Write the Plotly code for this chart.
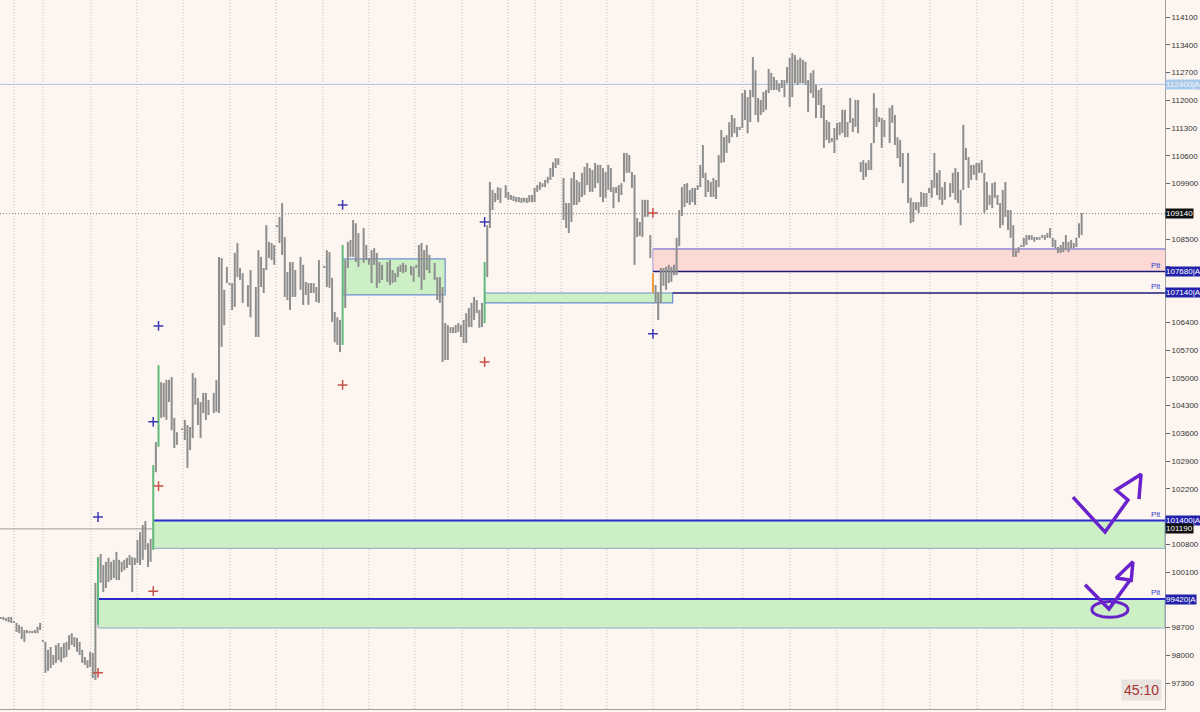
import plotly.graph_objects as go

# ---------------- data ----------------
highs = [
    98970, 98970, 98940, 98970, 98970, 98870, 98820, 98770, 98720, 98640,
    98640, 98620, 98620, 98640, 98720, 98820, 98390, 98340, 98140, 98210,
    98010, 98260, 98310, 98210, 98310, 98340, 98510, 98560, 98460, 98440,
    98340, 98140, 97960, 97880, 98090, 98060, 99830, 100480, 100560, 100280,
    100360, 100460, 100360, 100410, 100610, 100410, 100360, 100410, 100460, 100530,
    100480, 100460, 100910, 101110, 101290, 101390, 100830, 100940, 102800, 103380,
    105320, 104890, 104870, 104950, 104950, 105020, 103990, 103630, 103730, 103940,
    103810, 103760, 105120, 105000, 104490, 104390, 104620, 104620, 104440, 104620,
    104950, 108050, 108020, 107220, 107800, 107390, 107390, 108150, 108400, 107770,
    107640, 107340, 107720, 107290, 108220, 108050, 107770, 108850, 108430, 108400,
    108350, 108850, 109060, 109410, 108550, 107670, 107920, 107920, 107720, 108050,
    107850, 107420, 107390, 107390, 107390, 107290, 107970, 107820, 108220, 108170,
    107520, 106660, 106530, 106460, 108350, 107970, 108430, 108480, 108980, 108900,
    108650, 108780, 108350, 108020, 108220, 108270, 108150, 107920, 107850, 107920,
    107970, 107720, 107640, 107800, 107850, 107900, 107850, 107820, 107800, 107850,
    108350, 108400, 108220, 108350, 108100, 107900, 107540, 107540, 107290, 106380,
    106330, 106280, 106280, 106330, 106380, 106330, 106460, 106630, 106760, 106890,
    107040, 106960, 106710, 106890, 107920, 108850, 109940, 109740, 109660, 109810,
    109790, 109860, 109690, 109610, 109590, 109560, 109560, 109540, 109540, 109540,
    109610, 109610, 109790, 109860, 109940, 109910, 109990, 110070, 110290, 110440,
    110540, 110540, 110040, 109410, 109410, 110040, 110190, 109990, 109940, 110170,
    110320, 110420, 110290, 110240, 110420, 110370, 110370, 110290, 110190, 110370,
    110290, 109810, 109810, 109860, 109910, 110670, 110670, 110620, 110190, 110120,
    109030, 108930, 109490, 109490, 109490, 108600, 107640, 107340, 107160, 107770,
    107770, 107800, 107850, 107800, 107850, 108530, 109230, 109810, 109890, 109910,
    109740, 109790, 109790, 109860, 110370, 110870, 110170, 109990, 109940, 110040,
    109990, 110620, 111250, 111070, 111120, 111450, 111630, 111550, 111330, 111330,
    112180, 112260, 112080, 112260, 113090, 112760, 112060, 112010, 112210, 112260,
    112790, 112690, 112590, 112510, 112430, 112510, 112510, 112840, 113070, 113190,
    113140, 113020, 113070, 113020, 112970, 112510, 112690, 112760, 112390, 112260,
    112310, 111880, 111500, 111450, 111050, 111300, 111430, 111450, 111760, 111760,
    111450, 112060, 111550, 112010, 112010, 110440, 110490, 110420, 110490, 110920,
    112180, 111810, 111580, 111550, 111500, 111810, 111880, 111630, 111070, 111000,
    110670, 110670, 109540, 109430, 109430, 109430, 109690, 109660, 109660, 109790,
    109990, 110670, 110170, 110240, 109810, 109940, 109910, 110170, 110290, 110190,
    109740, 111380, 110800, 110570, 110370, 110370, 110420, 110420, 110490, 110170,
    109940, 109610, 109910, 109940, 109610, 109410, 109740, 109940, 109230, 109230,
    108850, 108220, 108300, 108350, 108530, 108600, 108600, 108600, 108550, 108550,
    108550, 108600, 108600, 108650, 108780, 108530, 108480, 108300, 108350, 108430,
    108600, 108430, 108480, 108400, 108530, 108900, 109160,
]
lows = [
    98920, 98890, 98870, 98840, 98820, 98820, 98590, 98560, 98410, 98340,
    98560, 98560, 98560, 98560, 98560, 98640, 98340, 97560, 97610, 97680,
    97760, 97810, 97880, 97830, 97930, 97960, 98140, 98260, 98210, 98090,
    98010, 97810, 97760, 97680, 97710, 97430, 97380, 98770, 99830, 99600,
    99700, 99850, 99900, 99950, 99900, 99900, 100100, 100150, 100200, 100280,
    99600, 100280, 100330, 100280, 100410, 100660, 100230, 100360, 100660, 102620,
    103260, 103990, 104010, 103940, 104390, 103680, 103230, 103310, 103680, 103430,
    102730, 103180, 103480, 104320, 103810, 103480, 104110, 103940, 104060, 104110,
    104140, 104110, 105780, 106330, 107390, 107340, 106710, 106790, 107540, 107470,
    106890, 106790, 106530, 106030, 106030, 107290, 107140, 107720, 108020, 107970,
    107850, 108800, 108400, 108100, 107040, 106960, 106710, 107040, 107040, 107220,
    106840, 107090, 106840, 107140, 107140, 106910, 106890, 107770, 107290, 107270,
    106410, 105900, 105830, 105650, 105830, 106760, 107770, 108050, 108050, 107920,
    107800, 107900, 107970, 107850, 107390, 107850, 107270, 107390, 107470, 107420,
    107340, 107390, 107420, 107540, 107670, 107640, 107670, 107590, 107420, 107770,
    107540, 107220, 107470, 107720, 107640, 107470, 106960, 106890, 105400, 105450,
    105450, 106130, 106130, 106130, 106160, 106030, 105880, 105880, 106280, 106280,
    106460, 106630, 106260, 106280, 106380, 107540, 108780, 109230, 109430, 109490,
    109410, 109540, 109490, 109490, 109460, 109430, 109430, 109410, 109430, 109410,
    109430, 109430, 109430, 109690, 109740, 109810, 109810, 109910, 109990, 110070,
    110290, 110370, 108980, 108780, 108650, 108930, 109360, 109360, 109430, 109560,
    109610, 109860, 109690, 109690, 109790, 109910, 109560, 109430, 109540, 109740,
    109690, 109280, 109660, 109430, 109610, 109940, 110170, 110170, 109790, 107850,
    108550, 108580, 108550, 109060, 109060, 108020, 107140, 106890, 106460, 106890,
    107320, 107220, 107390, 107420, 107590, 107590, 108320, 109080, 109310, 109410,
    109360, 109430, 109360, 109740, 109810, 110040, 109560, 109690, 109560, 109560,
    109510, 109810, 110420, 110440, 110670, 110920, 111070, 111170, 111070, 111250,
    111300, 111500, 111170, 111450, 112080, 111630, 111450, 111630, 111700, 111760,
    112180, 112260, 112260, 112260, 112210, 112310, 112080, 112430, 111830, 112080,
    112430, 112390, 112430, 112430, 112390, 111700, 112180, 112060, 111550, 111880,
    111550, 110800, 111000, 110920, 110950, 110670, 111000, 111120, 111170, 111070,
    111070, 111430, 111200, 111330, 111170, 110190, 109990, 110070, 110240, 110240,
    110920, 111330, 111450, 110800, 111070, 110920, 111430, 110870, 110540, 110320,
    109910, 109410, 108900, 108930, 109230, 109160, 109310, 109310, 109310, 109660,
    109540, 109790, 109610, 109490, 109360, 109490, 109560, 109660, 109490, 109410,
    108850, 109740, 110490, 109790, 109990, 110120, 109990, 110170, 110170, 109160,
    109230, 109360, 109280, 109540, 109360, 108780, 108850, 109060, 108730, 108530,
    108050, 108050, 108150, 108300, 108300, 108350, 108480, 108480, 108430, 108480,
    108480, 108530, 108480, 108530, 108530, 108300, 108270, 108150, 108150, 108170,
    108220, 108170, 108270, 108270, 108300, 108530, 108600,
]
# bar slots left empty in the time line (bars not readable in the picture)
empty_slot_after = [67, 78, 90, 92, 108, 116, 130, 138, 146, 154, 180, 201, 324, 330, 345]

green_bars = [37, 58, 60, 124, 174]     # signal bars drawn in green
orange_bars = [236]                      # signal bar drawn in orange

price_ticks = list(range(96600, 114101, 700))
# session separators on the time line (bar slots)
session_breaks = [5.1, 16.1, 34.3, 51.8, 69.3, 87.2, 104.7, 122.5, 140.0, 157.5,
                  175.4, 192.9, 203.2, 213.1, 230.5, 248.0, 264.8, 282.2, 300.1,
                  318.0, 335.5, 353.3, 371.2, 388.7, 399.8, 409.2]

# zones: (start bar, top, bottom, kind[, end bar])
zones = [
    (58, 101400, 100700, "green_open"),
    (37, 99420, 98690, "green_open"),
    (124, 108000, 107090, "green_box", 159),
    (174, 107140, 106890, "green_box", 243.5),
    (236, 108250, 107680, "pink_open"),
]
pit_lines = [(236, 107680), (243.5, 107140)]
full_lines = {"light": 112400, "dotted": 109140, "gray": 101190}

# entry markers (signal bar, price)
blue_marks_bar = [37, 58, 60, 124, 174, 236]
blue_marks_y = [101490, 103890, 106310, 109360, 108930, 106110]
red_marks_bar = [37, 58, 60, 124, 174, 236]
red_marks_y = [97560, 99620, 102270, 104820, 105400, 109160]

# right-hand price flags
flags = [
    (112400, "112400|A", "#a9c9ea", "#f4f8ff"),
    (109140, "109140", "#101010", "#ffffff"),
    (107680, "107680|A", "#2222aa", "#ffffff"),
    (107140, "107140|A", "#2222aa", "#ffffff"),
    (101400, "101400|A", "#2222aa", "#ffffff"),
    (101190, "101190", "#101010", "#ffffff"),
    (99420, "99420|A", "#2222aa", "#ffffff"),
]
plt_levels = [107680, 107140, 101400, 99420]

# hand drawn arrows (time slot, price)
arrow1_x = [407.7, 419.9, 428.6, 424.1, 433.6, 432.8]
arrow1_y = [101990, 101110, 101920, 102170, 102570, 101940]
arrow2_x = [412.3, 421.4, 429.4, 424.1, 430.5, 429.8]
arrow2_y = [99780, 99170, 99900, 99950, 100360, 99850]
ellipse_box = (414.9, 428.6, 98960, 99360)

# ---------------- figure ----------------
BG = "#fdf6f0"
X_MIN, X_MAX = -0.27, 442.7
Y_MIN, Y_MAX = 96648, 114529


def slot(i):
    """time slot of (possibly fractional) bar index i"""
    return i + sum(1 for g in empty_slot_after if g < int(i))


def segs(idx_list):
    xs, ys = [], []
    for i in idx_list:
        t = slot(i)
        xs += [t, t, None]
        ys += [lows[i], highs[i], None]
    return xs, ys


special = set(green_bars) | set(orange_bars)
fig = go.Figure()
gx, gy = segs([i for i in range(len(highs)) if i not in special])
fig.add_trace(go.Scatter(x=gx, y=gy, mode="lines",
                         line=dict(color="#8e8e8e", width=2), hoverinfo="skip"))
sx, sy = segs(green_bars)
fig.add_trace(go.Scatter(x=sx, y=sy, mode="lines",
                         line=dict(color="#5fb97a", width=2), hoverinfo="skip"))
ox, oy = segs(orange_bars)
fig.add_trace(go.Scatter(x=ox, y=oy, mode="lines",
                         line=dict(color="#e89a3c", width=2), hoverinfo="skip"))

fig.add_trace(go.Scatter(x=[slot(b) for b in blue_marks_bar], y=blue_marks_y,
                         mode="markers",
                         marker=dict(symbol="cross-thin", size=7,
                                     line=dict(color="#3a3ab4", width=1.5)),
                         hoverinfo="skip"))
fig.add_trace(go.Scatter(x=[slot(b) for b in red_marks_bar], y=red_marks_y,
                         mode="markers",
                         marker=dict(symbol="cross-thin", size=7,
                                     line=dict(color="#c8504c", width=1.5)),
                         hoverinfo="skip"))

for ax_, ay_ in ((arrow1_x, arrow1_y), (arrow2_x, arrow2_y)):
    fig.add_trace(go.Scatter(x=ax_, y=ay_, mode="lines",
                             line=dict(color="#6a22cc", width=3.5),
                             hoverinfo="skip"))

shapes = []
for b in session_breaks:
    shapes.append(dict(type="line", xref="x", yref="paper", x0=b, x1=b, y0=0, y1=1,
                       line=dict(color="#c4bdb8", width=1, dash="1px,2px"),
                       layer="below"))

for z in zones:
    start, top, bot, kind = slot(z[0]), z[1], z[2], z[3]
    if kind == "green_open":
        shapes.append(dict(type="rect", xref="x", yref="y", x0=start, x1=X_MAX,
                           y0=bot, y1=top, fillcolor="#cdefc6",
                           line=dict(color="#8fa8c8", width=1), layer="between"))
        shapes.append(dict(type="line", xref="x", yref="y", x0=start, x1=X_MAX,
                           y0=top, y1=top, line=dict(color="#2a2ad0", width=2),
                           layer="between"))
    elif kind == "green_box":
        shapes.append(dict(type="rect", xref="x", yref="y", x0=start, x1=slot(z[4]),
                           y0=bot, y1=top, fillcolor="#cdefc6",
                           line=dict(color="#6f8fd0", width=1.2), layer="between"))
    else:
        shapes.append(dict(type="rect", xref="x", yref="y", x0=start, x1=X_MAX,
                           y0=bot, y1=top, fillcolor="#fcd9d4",
                           line=dict(width=0), layer="between"))
        shapes.append(dict(type="line", xref="x", yref="y", x0=start, x1=X_MAX,
                           y0=top, y1=top, line=dict(color="#aa9fd8", width=2),
                           layer="between"))
        shapes.append(dict(type="line", xref="x", yref="y", x0=start, x1=start,
                           y0=bot, y1=top, line=dict(color="#aa9fd8", width=1),
                           layer="between"))

for start, lvl in pit_lines:
    shapes.append(dict(type="line", xref="x", yref="y", x0=slot(start), x1=X_MAX,
                       y0=lvl, y1=lvl, line=dict(color="#1c1c78", width=1.5),
                       layer="between"))

shapes.append(dict(type="line", xref="paper", yref="y", x0=0, x1=1,
                   y0=full_lines["light"], y1=full_lines["light"],
                   line=dict(color="#a8c6e6", width=1), layer="between"))
shapes.append(dict(type="line", xref="paper", yref="y", x0=0, x1=1,
                   y0=full_lines["dotted"], y1=full_lines["dotted"],
                   line=dict(color="#7a7a7a", width=1, dash="1px,2px"), layer="between"))
shapes.append(dict(type="line", xref="paper", yref="y", x0=0, x1=1,
                   y0=full_lines["gray"], y1=full_lines["gray"],
                   line=dict(color="#9a9a9a", width=1), layer="between"))

ex0, ex1, ey0, ey1 = ellipse_box
shapes.append(dict(type="circle", xref="x", yref="y", x0=ex0, x1=ex1, y0=ey0, y1=ey1,
                   line=dict(color="#6a22cc", width=3), layer="above"))

annotations = []
for val, txt, bgc, fgc in flags:
    annotations.append(dict(xref="paper", yref="y", x=1, y=val, xanchor="left",
                            yanchor="middle", text=txt, showarrow=False,
                            bgcolor=bgc, borderpad=0,
                            font=dict(size=8, color=fgc, family="Liberation Sans")))
for lvl in plt_levels:
    annotations.append(dict(xref="paper", yref="y", x=1, y=lvl, xanchor="right",
                            yanchor="bottom", text="Plt", showarrow=False, xshift=-2,
                            font=dict(size=8, color="#3a3ad0", family="Liberation Sans")))
annotations.append(dict(xref="paper", yref="paper", x=0.9794, y=0.027,
                        xanchor="center", yanchor="middle", text="45:10",
                        showarrow=False, bgcolor="#e8e3df", borderpad=2,
                        font=dict(size=14, color="#a83232", family="Liberation Sans")))

# tick labels hidden where a price flag covers them
flag_vals = [f[0] for f in flags]
tick_text = ["" if any(abs(t - v) < 260 for v in flag_vals) else str(t)
             for t in price_ticks]

fig.update_layout(
    width=1200, height=712,
    margin=dict(l=0, r=35, t=0, b=3),
    paper_bgcolor=BG, plot_bgcolor=BG,
    showlegend=False,
    font=dict(family="Liberation Sans", size=8, color="#333333"),
    shapes=shapes, annotations=annotations,
    xaxis=dict(range=[X_MIN, X_MAX], showgrid=False, zeroline=False,
               showticklabels=False, showline=True, linecolor="#a0a0a0",
               fixedrange=True),
    yaxis=dict(side="right", range=[Y_MIN, Y_MAX], tickvals=price_ticks,
               ticktext=tick_text,
               ticks="outside", ticklen=4, tickcolor="#666666",
               tickfont=dict(size=8, color="#333333"),
               showgrid=False, zeroline=False, showline=True,
               linecolor="#a0a0a0", fixedrange=True),
)

fig.write_html("out.html", config={"displayModeBar": False},
               post_script="document.body.style.margin='0';document.body.style.overflow='hidden';")
